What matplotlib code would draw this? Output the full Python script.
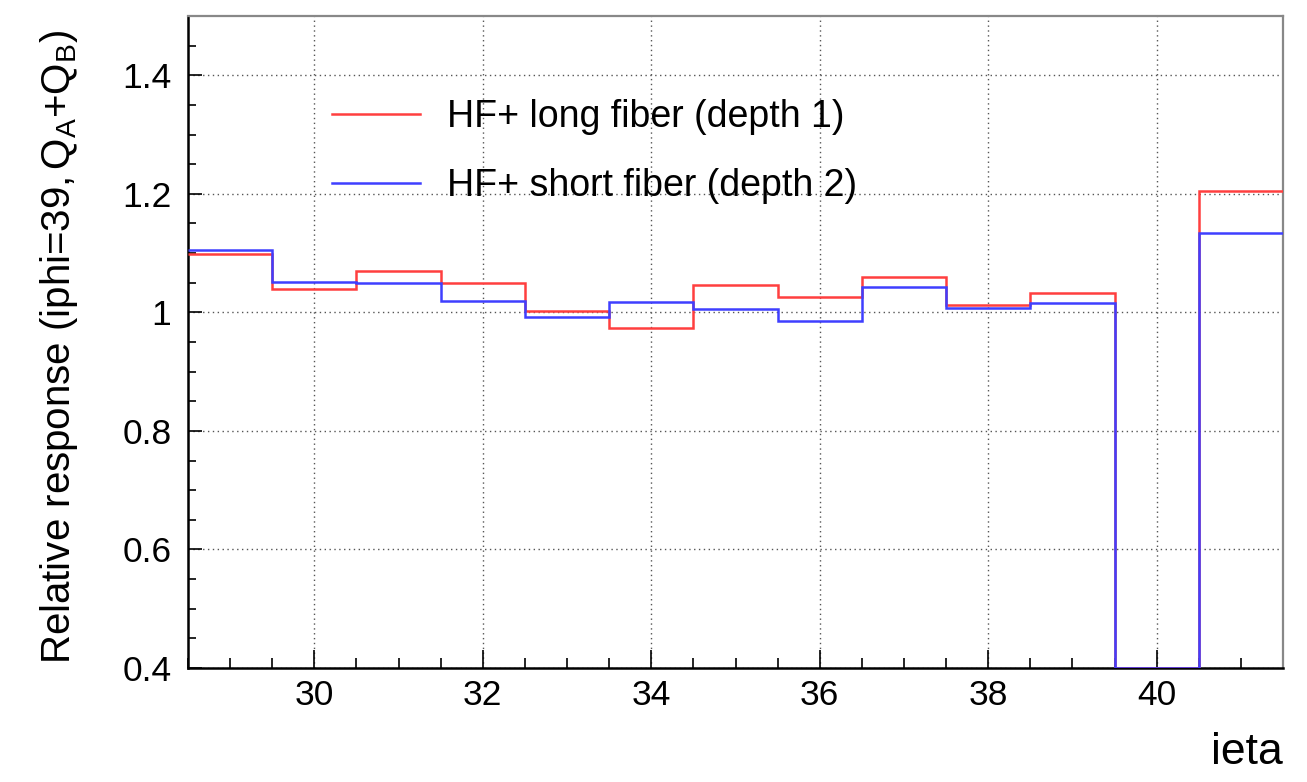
import matplotlib
matplotlib.use("Agg")
import matplotlib.pyplot as plt
import numpy as np
from matplotlib.ticker import MultipleLocator, FixedLocator

plt.rcParams['font.family'] = ['Liberation Sans', 'DejaVu Sans']
plt.rcParams['mathtext.fontset'] = 'custom'
plt.rcParams['mathtext.rm'] = 'Liberation Sans'
plt.rcParams['mathtext.it'] = 'Liberation Sans:italic'

# bin edges in ieta (bins centred on 29..41)
edges = np.arange(28.5, 42.0, 1.0)
ieta = [29, 30, 31, 32, 33, 34, 35, 36, 37, 38, 39, 40, 41]
long_fiber = [1.098, 1.039, 1.069, 1.050, 1.003, 0.973, 1.047, 1.026, 1.060, 1.012, 1.033, 0.0, 1.205]
short_fiber = [1.106, 1.052, 1.049, 1.020, 0.992, 1.017, 1.006, 0.986, 1.043, 1.008, 1.015, 0.0, 1.134]

ymin, ymax = 0.4, 1.5

fig = plt.figure(figsize=(13.07, 7.82), dpi=100)
ax = fig.add_axes([188/1307, 1 - 668/782, (1283-188)/1307, (668-16)/782])

# ROOT-like drawing: empty bins are drawn along the axis floor
ax.stairs(np.clip(long_fiber, ymin, None), edges, baseline=None, color='#ff3f3f',
          lw=1.8, label='HF+ long fiber (depth 1)', zorder=3)
ax.stairs(np.clip(short_fiber, ymin, None), edges, baseline=None, color='#3f3fff',
          lw=1.8, label='HF+ short fiber (depth 2)', zorder=3)

ax.set_xlim(28.5, 41.5)
ax.set_ylim(ymin, ymax)

ax.xaxis.set_major_locator(FixedLocator([30, 32, 34, 36, 38, 40]))
ax.xaxis.set_minor_locator(MultipleLocator(0.5))
ax.yaxis.set_major_locator(FixedLocator([0.4, 0.6, 0.8, 1.0, 1.2, 1.4]))
ax.yaxis.set_minor_locator(MultipleLocator(0.05))
ax.set_yticklabels(['0.4', '0.6', '0.8', '1', '1.2', '1.4'])

ax.tick_params(axis='both', which='both', direction='in', top=False, right=False,
               labelsize=25.5, width=1.2)
ax.tick_params(axis='x', which='major', length=13, pad=8)
ax.tick_params(axis='x', which='minor', length=7)
ax.tick_params(axis='y', which='major', length=10, pad=12)
ax.tick_params(axis='y', which='minor', length=5.5)

ax.grid(True, which='major', color='#555555', lw=1.0, ls=(0, (1, 2.5)))

for s in ['left', 'bottom']:
    ax.spines[s].set_linewidth(1.8)
    ax.spines[s].set_color('black')
for s in ['top', 'right']:
    ax.spines[s].set_linewidth(1.6)
    ax.spines[s].set_color('#888888')

ax.set_xlabel('ieta', fontsize=32, loc='right')
ax.xaxis.set_label_coords(1.0, (668 - 732) / 652)
ax.xaxis.label.set_va('top')
ax.set_ylabel(r'Relative response (iphi=39,$\,$Q$_{\mathrm{A}}$+Q$_{\mathrm{B}}$)',
              fontsize=29, loc='top')
ax.yaxis.set_label_coords((80 - 188) / 1095, (668 - 30) / 652)

ax.legend(loc='upper left', bbox_to_anchor=(0.1315, 0.873), frameon=False,
          fontsize=27, handlelength=2.35, handletextpad=0.72, labelspacing=0.88,
          borderpad=0, borderaxespad=0)

fig.savefig('out.png', dpi=100)
